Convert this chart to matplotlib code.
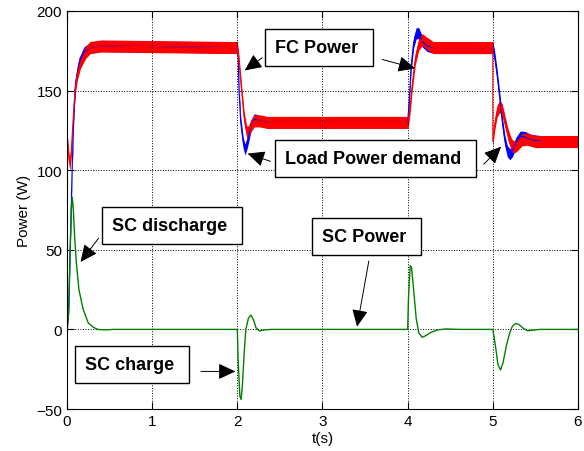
import matplotlib
matplotlib.use('Agg')
import matplotlib.pyplot as plt

plt.rcParams['font.family'] = ['Liberation Sans', 'DejaVu Sans']

# Load power demand (blue)
load_t = [0, 0.02, 0.04, 0.06, 0.08, 0.10, 0.14, 0.20, 0.28, 0.40,
          2.00, 2.01, 2.02, 2.04, 2.07, 2.09, 2.12, 2.16, 2.20, 2.26, 2.35,
          4.00, 4.02, 4.04, 4.07, 4.10, 4.13, 4.17, 4.23, 4.30,
          5.00, 5.02, 5.05, 5.08, 5.11, 5.14, 5.17, 5.20, 5.23, 5.27, 5.32, 5.37, 5.45, 5.60, 6.00]
load_p = [0, 15, 55, 100, 135, 155, 167, 174, 177, 178,
          177, 170, 150, 130, 117, 113, 118, 128, 132, 131, 130,
          130, 145, 165, 180, 186, 186, 181, 178, 177,
          177, 172, 160, 146, 131, 119, 112, 110, 112, 117, 121, 121, 119, 118, 118]

# Fuel cell power (red)
fc_t = [0, 0, 0.01, 0.025, 0.035, 0.05, 0.07, 0.094, 0.12, 0.16, 0.22, 0.27, 0.40,
        2.00, 2.02, 2.05, 2.08, 2.11, 2.13, 2.16, 2.20, 2.26, 2.35,
        4.00, 4.01, 4.03, 4.05, 4.09, 4.13, 4.17, 4.22, 4.30,
        5.00, 5.00, 5.02, 5.05, 5.08, 5.11, 5.14, 5.18, 5.22, 5.25, 5.29, 5.34, 5.40, 5.50, 6.00]
fc_p = [0, 121, 115, 106, 104, 112, 130, 150, 160, 168, 174, 177, 178,
        177, 168, 150, 133, 124, 124, 128, 131, 131, 130,
        130, 132, 140, 152, 170, 179, 182, 180, 177,
        177, 118, 128, 137, 140, 138, 131, 122, 116, 114.5, 116, 119, 119.5, 118, 118]

# Supercapacitor power (green)
sc_t = [0, 0.02, 0.035, 0.05, 0.062, 0.075, 0.09, 0.11, 0.14, 0.19, 0.25, 0.31, 0.36, 0.45, 0.55,
        2.00, 2.01, 2.03, 2.045, 2.06, 2.08, 2.10, 2.13, 2.16, 2.19, 2.22, 2.26, 2.32, 2.40,
        4.00, 4.01, 4.03, 4.045, 4.07, 4.10, 4.13, 4.17, 4.21, 4.27, 4.35, 4.45, 4.60,
        5.00, 5.03, 5.06, 5.09, 5.12, 5.16, 5.20, 5.23, 5.27, 5.31, 5.36, 5.41, 5.47, 5.55, 6.00]
sc_p = [0, 10, 45, 75, 83, 75, 58, 42, 25, 12.6, 4, 1.3, 0, -0.3, 0,
        0, -20, -42, -44, -35, -15, 0, 7, 9, 6, 1, -1, -0.3, 0,
        0, 20, 40, 39, 25, 7, -2, -5, -4, -2, -0.3, 0.3, 0,
        0, -10, -22, -25.5, -21, -10, -2, 2, 3.8, 3, 0.5, -0.8, -0.5, 0, 0]

ripple_fc = 3.8
ripple_load = 3.5

fig = plt.figure(figsize=(5.84, 4.52), dpi=100)
ax = fig.add_axes([0.1147, 0.0929, 0.875, 0.8806])

ax.fill_between(load_t, [p - ripple_load for p in load_p], [p + ripple_load for p in load_p],
                color='#0000ff', lw=0)
ax.plot(load_t, load_p, color='#0000ff', lw=0.8)
ax.fill_between(fc_t, [p - ripple_fc for p in fc_p], [p + ripple_fc for p in fc_p],
                color='#ff0000', lw=0)
ax.plot(fc_t, fc_p, color='#ff0000', lw=0.8)
ax.plot(sc_t, sc_p, color='#008000', lw=1.0)

ax.set_xlim(0, 6)
ax.set_ylim(-50, 200)
ax.set_xticks(range(0, 7))
ax.set_yticks(range(-50, 201, 50))
ax.grid(True, linestyle=':', color='black', linewidth=0.7)
ax.tick_params(direction='in', top=True, right=True, labelsize=11, length=5)
for s in ax.spines.values():
    s.set_linewidth(0.8)
ax.set_xlabel('t(s)', fontsize=11, labelpad=2)
ax.set_ylabel('Power (W)', fontsize=11, labelpad=4)

box = dict(boxstyle='square,pad=0.55', fc='white', ec='black', lw=1.0)
arrow = dict(arrowstyle='-|>,head_length=0.75,head_width=0.35', color='black',
             lw=0.7, mutation_scale=14)

labels = [('FC Power ', 2.44, 177), ('Load Power demand ', 2.56, 107.5),
          ('SC discharge ', 0.53, 65), ('SC charge ', 0.21, -22), ('SC Power ', 2.99, 58.5)]
for txt, x, y in labels:
    ax.text(x, y, txt, ha='left', va='center', fontsize=13, fontweight='bold', bbox=box, zorder=5)

arrows = [((2.06, 161.6), (2.32, 171.7)), ((4.12, 163.5), (3.67, 170)),
          ((2.09, 111), (2.42, 105)), ((5.12, 116), (4.87, 102.5)),
          ((0.14, 41), (0.39, 58.6)), ((2.01, -26.4), (1.54, -26.4)),
          ((3.40, 0), (3.55, 44.7))]
for head, tail in arrows:
    ax.annotate('', xy=head, xytext=tail, arrowprops=arrow, zorder=6)

fig.savefig('out.png', dpi=100)
